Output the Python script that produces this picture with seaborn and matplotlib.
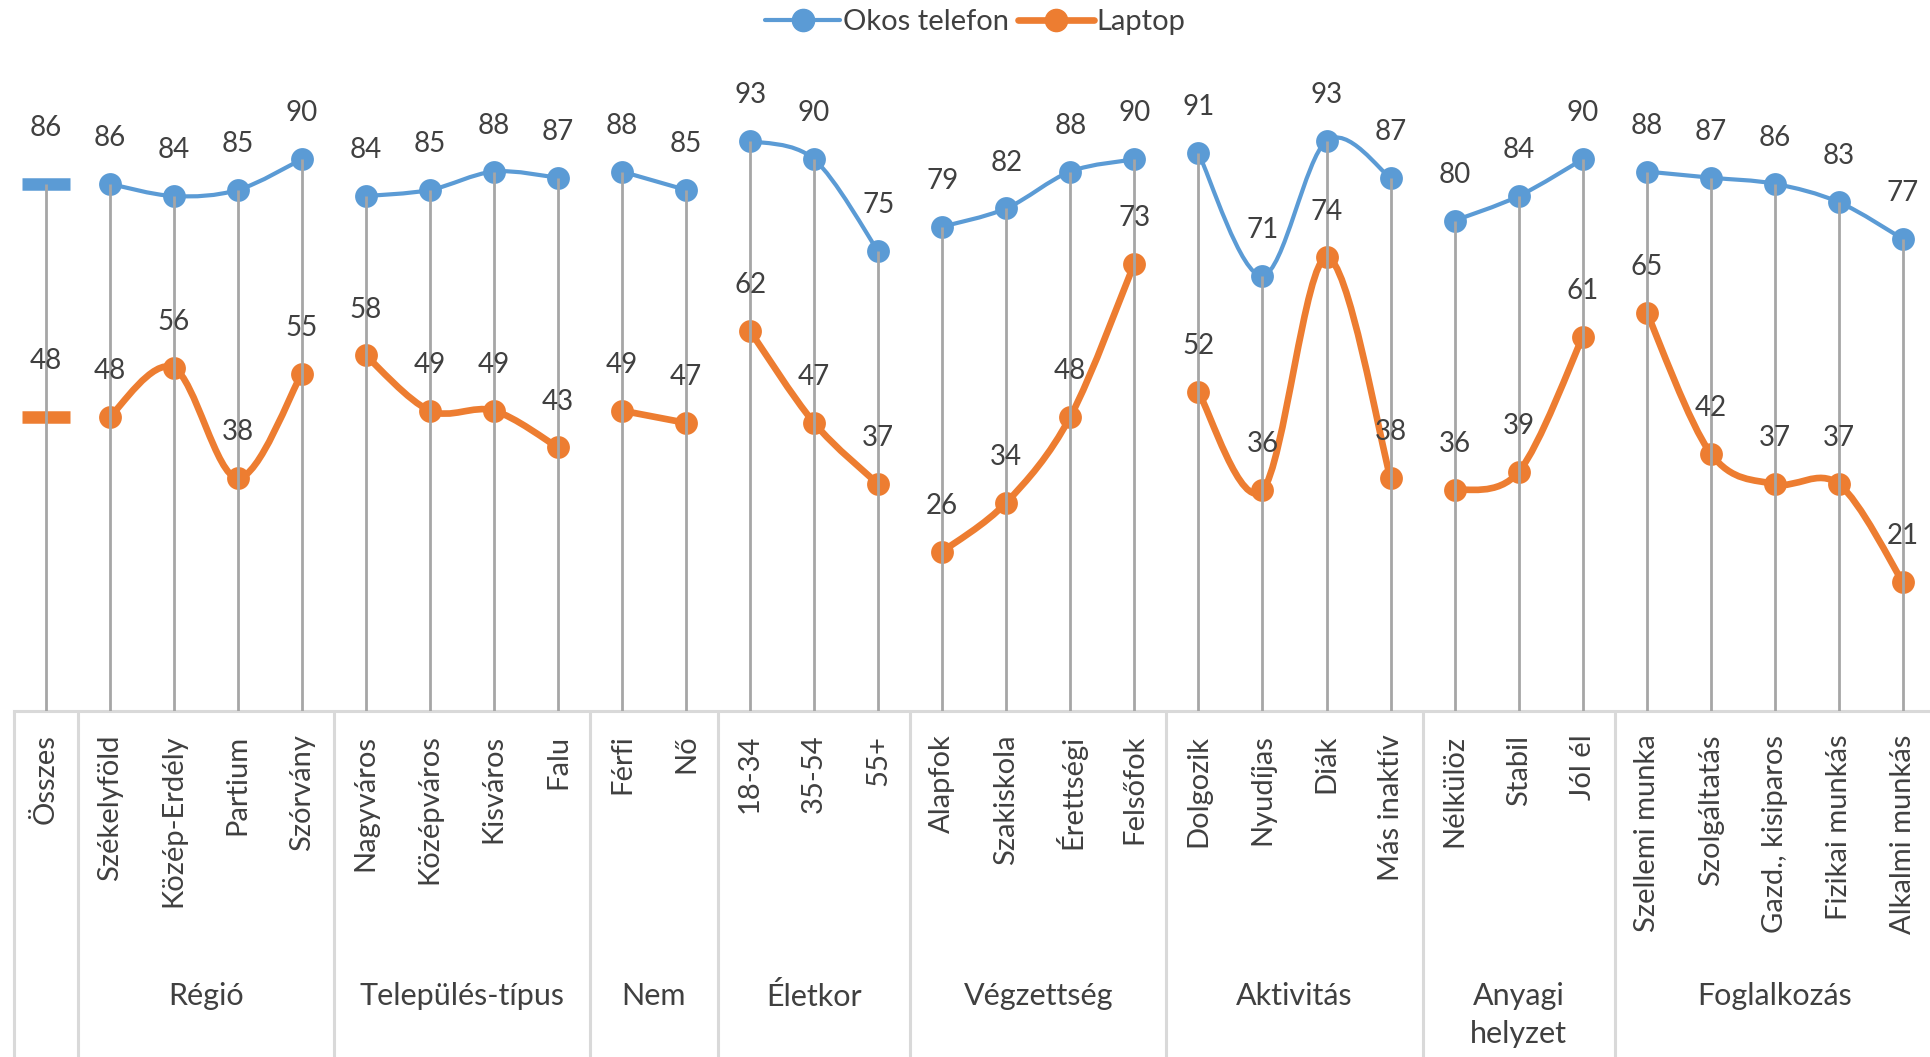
import numpy as np
import pandas as pd
import seaborn as sns
import matplotlib.pyplot as plt
from matplotlib.path import Path
from matplotlib.patches import PathPatch
from matplotlib.lines import Line2D

# data
group_names = ["", "Régió", "Település-típus", "Nem", "Életkor", "Végzettség",
               "Aktivitás", "Anyagi\nhelyzet", "Foglalkozás"]
group_sizes = [1, 4, 4, 2, 3, 4, 4, 3, 5]
categories = ["Összes",
              "Székelyföld", "Közép-Erdély", "Partium", "Szórvány",
              "Nagyváros", "Középváros", "Kisváros", "Falu",
              "Férfi", "Nő",
              "18-34", "35-54", "55+",
              "Alapfok", "Szakiskola", "Érettségi", "Felsőfok",
              "Dolgozik", "Nyudíjas", "Diák", "Más inaktív",
              "Nélkülöz", "Stabil", "Jól él",
              "Szellemi munka", "Szolgáltatás", "Gazd., kisiparos", "Fizikai munkás", "Alkalmi munkás"]
phone = [86,
         86, 84, 85, 90,
         84, 85, 88, 87,
         88, 85,
         93, 90, 75,
         79, 82, 88, 90,
         91, 71, 93, 87,
         80, 84, 90,
         88, 87, 86, 83, 77]
laptop = [48,
          48, 56, 38, 55,
          58, 49, 49, 43,
          49, 47,
          62, 47, 37,
          26, 34, 48, 73,
          52, 36, 74, 38,
          36, 39, 61,
          65, 42, 37, 37, 21]

BLUE = "#5B9BD5"
ORANGE = "#ED7D31"
TXT = "#404040"

sns.set_theme(style="white")
plt.rcParams['font.family'] = ['Lato', 'DejaVu Sans']

df = pd.DataFrame({"cat": categories, "x": np.arange(len(categories)),
                   "Okos telefon": phone, "Laptop": laptop})
df["group"] = np.repeat(np.arange(len(group_sizes)), group_sizes)


def smooth_path(xs, ys, t=1 / 6):
    # Excel-like smoothed line as cubic bezier through the points
    pts = np.column_stack([xs, ys]).astype(float)
    n = len(pts)
    verts = [pts[0]]
    codes = [Path.MOVETO]
    for i in range(n - 1):
        p0 = pts[i - 1] if i > 0 else pts[i]
        p3 = pts[i + 2] if i + 2 < n else pts[i + 1]
        c1 = pts[i] + (pts[i + 1] - p0) * t
        c2 = pts[i + 1] - (p3 - pts[i]) * t
        verts += [c1, c2, pts[i + 1]]
        codes += [Path.CURVE4] * 3
    return Path(verts, codes)


W, H = 1931, 1057
fig = plt.figure(figsize=(W / 100, H / 100), dpi=100)
x0_px, x1_px = 13.5, 1931
y0_px, y1_px = 711, 98
ax = fig.add_axes([x0_px / W, 1 - y0_px / H, (x1_px - x0_px) / W, (y0_px - y1_px) / H])
ax.set_xlim(-0.5, (1931 - 45.5) / 64.05)
ax.set_ylim(0, 100)

series = [("Okos telefon", BLUE, 3.0), ("Laptop", ORANGE, 4.8)]
for g, sub in df.groupby("group"):
    for name, col, lw in series:
        if len(sub) > 1:
            ax.add_patch(PathPatch(smooth_path(sub["x"], sub[name]), facecolor="none",
                                   edgecolor=col, lw=lw, capstyle="round",
                                   joinstyle="round", zorder=2))
            sns.scatterplot(x=sub["x"], y=sub[name], color=col, s=270, linewidth=0,
                            ax=ax, zorder=3, legend=False)
        else:
            ax.plot(sub["x"], sub[name], marker="_", ms=35, mew=9, color=col,
                    lw=0, zorder=3, solid_capstyle="butt")

# drop lines
tops = np.maximum(phone, laptop)
ax.vlines(df["x"], 0, tops, color="#A6A6A6", lw=2, zorder=4)

# data labels
for i in range(len(categories)):
    off = 40 if i == 0 else 33
    for vals in (phone, laptop):
        ax.annotate(str(vals[i]), (i, vals[i]), xytext=(0, off), textcoords="offset points",
                    ha="center", va="center", fontsize=20, color=TXT, zorder=5)

# axes styling
for s in ["left", "right", "top"]:
    ax.spines[s].set_visible(False)
ax.spines["bottom"].set_color("#D9D9D9")
ax.spines["bottom"].set_linewidth(2.2)
ax.set_yticks([])
ax.set_xticks(df["x"], categories, rotation=90, fontsize=21, color=TXT)
ax.tick_params(axis="x", length=0, pad=17)
ax.set_xlabel("")
ax.set_ylabel("")

# group separators and group labels
axh = y0_px - y1_px
bounds = np.concatenate([[0], np.cumsum(group_sizes)]) - 0.5
for b in bounds[:-1]:
    ax.plot([b, b], [0, -(H - y0_px) / axh - 0.01], transform=ax.get_xaxis_transform(),
            color="#D9D9D9", lw=2.2, clip_on=False)
for name, a, b in zip(group_names, bounds[:-1], bounds[1:]):
    if name:
        ax.text((a + b) / 2, -(982 - y0_px) / axh, name, transform=ax.get_xaxis_transform(),
                ha="center", va="top", fontsize=22, color=TXT, linespacing=1.45)

handles = [Line2D([], [], color=BLUE, lw=3.0, marker="o", ms=16),
           Line2D([], [], color=ORANGE, lw=4.8, marker="o", ms=16)]
fig.legend(handles, ["Okos telefon", "Laptop"], loc="center", bbox_to_anchor=(0.505, 1 - 22 / H),
           ncol=2, frameon=False, fontsize=21, handlelength=2.6, columnspacing=0.3,
           handletextpad=0.1, labelcolor=TXT)

fig.savefig("out.png", dpi=100)
